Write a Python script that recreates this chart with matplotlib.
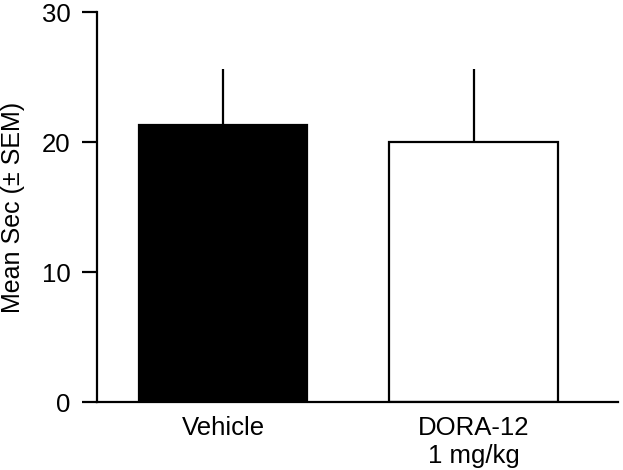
import matplotlib

matplotlib.use("Agg")
import matplotlib.pyplot as plt

# values
groups = ["Vehicle", "DORA-12\n1 mg/kg"]
mean_sec = [21.3, 20.0]
sem = [4.3, 5.6]
fill_colors = ["black", "white"]

plt.rcParams["font.family"] = ["Liberation Sans", "DejaVu Sans"]

fig = plt.figure(figsize=(6.23, 4.70), dpi=100)
ax = fig.add_axes([97 / 623, 68 / 470, 521 / 623, 390 / 470])

x = list(range(len(groups)))
ax.bar(x, mean_sec, width=0.673, color=fill_colors, edgecolor="black",
       linewidth=1.6, zorder=2)
ax.errorbar(x, mean_sec, yerr=[[0, 0], sem], fmt="none", ecolor="black",
            elinewidth=1.6, capsize=0, zorder=1)

ax.set_xlim(-0.502, 1.574)
ax.set_ylim(0, 30)
ax.set_yticks([0, 10, 20, 30])
ax.set_xticks(x)
ax.set_xticklabels(groups)
ax.set_ylabel("Mean Sec (\u00b1 SEM)", fontsize=18, labelpad=12)

for side in ("top", "right"):
    ax.spines[side].set_visible(False)
for side in ("left", "bottom"):
    ax.spines[side].set_linewidth(1.6)
ax.tick_params(axis="y", length=11, width=1.6, pad=8, labelsize=18.5)
ax.tick_params(axis="x", length=0, pad=10, labelsize=18.5)

fig.savefig("out.png", dpi=100)
